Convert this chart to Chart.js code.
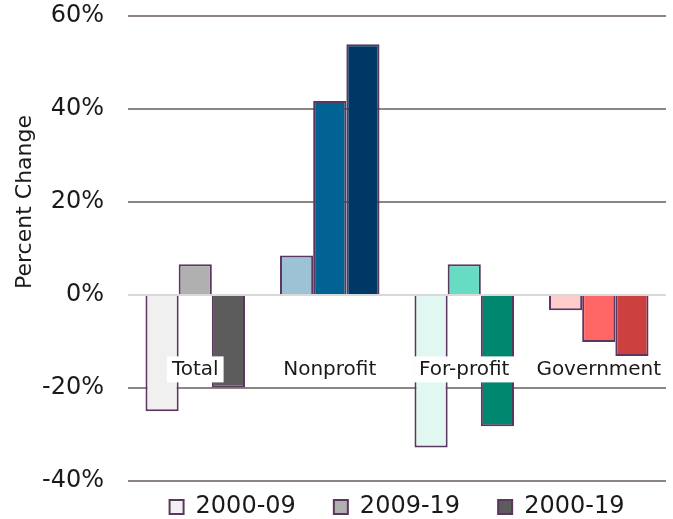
<!DOCTYPE html>
<html>
<head>
<meta charset="utf-8">
<script src="https://cdn.jsdelivr.net/npm/chart.js@4"></script>
<style>
  html, body { margin: 0; padding: 0; background: #ffffff; }
  #wrap { width: 673px; height: 519px; }
</style>
</head>
<body>
<div id="wrap"><canvas id="c" width="673" height="519"></canvas></div>
<script>
const categories = ['Total', 'Nonprofit', 'For-profit', 'Government'];
const seriesNames = ['2000-09', '2009-19', '2000-19'];
const values2000_09 = [-25.0, 8.5, -32.8, -3.3];
const values2009_19 = [6.6, 41.7, 6.6, -10.1];
const values2000_19 = [-19.9, 53.9, -28.2, -13.1];
const yTicks = [-40, -20, 0, 20, 40, 60];
const colors2000_09 = ['#f0f0f0', '#9dc2d5', '#e0f8f1', '#ffcccc'];
const colors2009_19 = ['#b0b0b0', '#006394', '#66dcc3', '#ff6666'];
const colors2000_19 = ['#5c5c5c', '#003865', '#00876f', '#cc4040'];

const FONT = "'DejaVu Sans', sans-serif";
const TEXT = '#1a1a1a';
const BORDER = '#5b3760';

const yTitlePlugin = {
  id: 'yTitle',
  afterDraw(chart) {
    const ys = chart.scales.y;
    const ctx = chart.ctx;
    ctx.save();
    ctx.translate(25, ys.getPixelForValue(yTicks[3]));
    ctx.rotate(-Math.PI / 2);
    ctx.font = "22px " + FONT;
    ctx.fillStyle = TEXT;
    ctx.textAlign = 'center';
    ctx.textBaseline = 'middle';
    ctx.fillText('Percent Change', 0, 0);
    ctx.restore();
  }
};

const mk = (label, data, colors) => ({
  label, data,
  backgroundColor: colors,
  borderColor: BORDER,
  borderWidth: 2,
  categoryPercentage: 0.74,
  barPercentage: 1.0
});

new Chart(document.getElementById('c'), {
  type: 'bar',
  data: {
    labels: categories,
    datasets: [
      mk(seriesNames[0], values2000_09, colors2000_09),
      mk(seriesNames[1], values2009_19, colors2009_19),
      mk(seriesNames[2], values2000_19, colors2000_19)
    ]
  },
  plugins: [yTitlePlugin],
  options: {
    responsive: false,
    devicePixelRatio: 1,
    animation: false,
    layout: { padding: { top: 16, right: 7, bottom: -10, left: 0 } },
    plugins: {
      tooltip: { enabled: false },
      legend: {
        position: 'bottom',
        fullSize: false,
        title: { display: true, text: '', font: { size: 10 }, padding: { top: -36, bottom: 0 } },
        labels: {
          font: { family: FONT, size: 24 },
          color: TEXT,
          boxWidth: 14,
          boxHeight: 14,
          padding: 38
        }
      }
    },
    scales: {
      x: {
        type: 'category',
        position: { y: -16 },
        grid: { display: false },
        border: { display: false },
        ticks: {
          z: 1,
          color: TEXT,
          font: { family: FONT, size: 20 },
          padding: -20,
          maxRotation: 0,
          autoSkip: false,
          showLabelBackdrop: true,
          backdropColor: '#ffffff',
          backdropPadding: { x: 5, y: 1 }
        }
      },
      y: {
        min: yTicks[0],
        max: yTicks[yTicks.length - 1],
        afterFit(s) { s.width = 128; },
        afterBuildTicks(s) { s.ticks = yTicks.map(v => ({ value: v })); },
        grid: {
          drawTicks: true,
          tickLength: 24,
          tickColor: 'rgba(0,0,0,0)',
          lineWidth: 2,
          color: c => (c.tick && c.tick.value === 0) ? '#d9d9d9' : '#8c8582'
        },
        border: { display: false },
        ticks: {
          color: TEXT,
          font: { family: FONT, size: 24 },
          padding: 0,
          callback: v => v + '%'
        }
      }
    }
  }
});
</script>
</body>
</html>
